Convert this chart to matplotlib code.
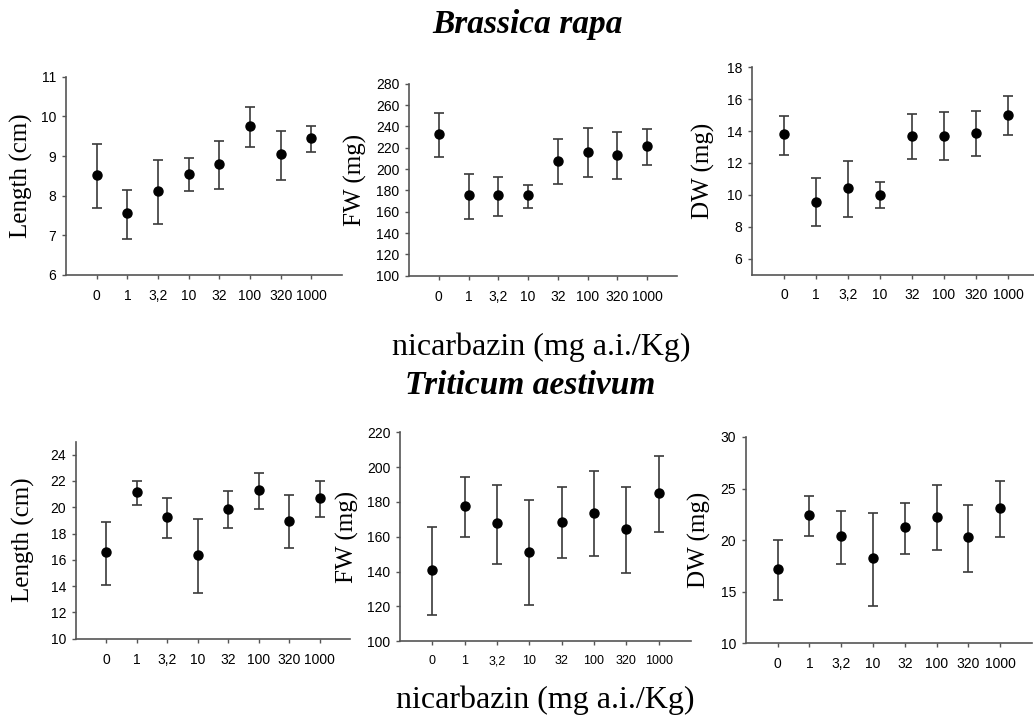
import numpy as np
import matplotlib
matplotlib.use("Agg")
import matplotlib.pyplot as plt

doses = ['0', '1', '3,2', '10', '32', '100', '320', '1000']

# Brassica rapa
br_len = [8.53, 7.56, 8.11, 8.54, 8.79, 9.75, 9.04, 9.45]
br_len_lo = [7.69, 6.91, 7.28, 8.11, 8.17, 9.22, 8.40, 9.09]
br_len_hi = [9.31, 8.15, 8.91, 8.94, 9.38, 10.24, 9.64, 9.76]

br_fw = [232.5, 175.3, 175.3, 175.3, 207.5, 216.3, 213.4, 221.3]
br_fw_lo = [211.3, 152.8, 156.3, 163.8, 186.3, 192.5, 190.9, 203.4]
br_fw_hi = [252.5, 195.3, 192.8, 184.7, 227.8, 238.4, 234.4, 237.5]

br_dw = [13.79, 9.58, 10.42, 10.02, 13.69, 13.72, 13.88, 15.03]
br_dw_lo = [12.50, 8.04, 8.63, 9.15, 12.25, 12.19, 12.42, 13.76]
br_dw_hi = [14.96, 11.07, 12.13, 10.82, 15.07, 15.20, 15.24, 16.20]

# Triticum aestivum
ta_len = [16.56, 21.14, 19.22, 16.40, 19.87, 21.32, 18.99, 20.67]
ta_len_lo = [14.10, 20.18, 17.67, 13.47, 18.40, 19.87, 16.91, 19.22]
ta_len_hi = [18.84, 21.97, 20.69, 19.09, 21.24, 22.63, 20.91, 22.03]

ta_fw = [140.8, 177.5, 167.8, 151.2, 168.6, 173.7, 164.3, 185.0]
ta_fw_lo = [115.0, 160.0, 144.5, 120.8, 147.8, 149.1, 139.0, 162.5]
ta_fw_hi = [165.5, 194.3, 190.0, 181.0, 188.7, 197.8, 188.5, 206.5]

ta_dw = [17.22, 22.45, 20.39, 18.26, 21.23, 22.26, 20.29, 23.10]
ta_dw_lo = [14.19, 20.42, 17.71, 13.64, 18.64, 19.00, 16.94, 20.32]
ta_dw_hi = [20.06, 24.29, 22.87, 22.68, 23.64, 25.32, 23.42, 25.71]

W, H = 1034, 723
fig = plt.figure(figsize=(W / 100, H / 100), dpi=100)

serif = 'Liberation Serif'
sans = 'Liberation Sans'


def panel(rect, mean, lo, hi, ylabel, ylim, yticks, labx, xtick_fs=10):
    l, t, r, b = rect
    ax = fig.add_axes([l / W, 1 - b / H, (r - l) / W, (b - t) / H])
    x = np.arange(len(doses))
    mean = np.array(mean)
    yerr = [mean - np.array(lo), np.array(hi) - mean]
    ax.errorbar(x, mean, yerr=yerr, fmt='o', color='black', ms=6.5,
                ecolor='#3a3a3a', elinewidth=1.2, capsize=3.5, capthick=1.2)
    ax.set_xlim(-1, 8)
    ax.set_ylim(*ylim)
    ax.set_xticks(x)
    ax.set_xticklabels(doses, fontfamily=sans, fontsize=xtick_fs)
    ax.set_yticks(yticks)
    ax.set_yticklabels([str(v) for v in yticks], fontfamily=sans, fontsize=10)
    for s in ['top', 'right']:
        ax.spines[s].set_visible(False)
    for s in ['left', 'bottom']:
        ax.spines[s].set_color('#555555')
        ax.spines[s].set_linewidth(1.2)
    ax.tick_params(axis='x', direction='out', length=3, width=1, color='#555555', pad=7)
    ax.tick_params(axis='y', direction='out', length=3, width=1, color='#555555', pad=4)
    ax.set_ylabel(ylabel, fontfamily=serif, fontsize=18)
    ax.yaxis.label.set_va('center')
    ax.yaxis.set_label_coords(labx, 0.5)
    return ax


panel((66, 76.7, 342, 275), br_len, br_len_lo, br_len_hi, 'Length (cm)',
      (6, 11), list(range(6, 12)), -0.16)
panel((409, 83.7, 677, 275.7), br_fw, br_fw_lo, br_fw_hi, 'FW (mg)',
      (100, 280), list(range(100, 281, 20)), -0.20)
panel((752, 67.3, 1040, 274.6), br_dw, br_dw_lo, br_dw_hi, 'DW (mg)',
      (5, 18), list(range(6, 19, 2)), -0.17)

panel((76, 441.5, 350, 638.7), ta_len, ta_len_lo, ta_len_hi, 'Length (cm)',
      (10, 25), list(range(10, 25, 2)), -0.19)
panel((400, 432.3, 691, 641.3), ta_fw, ta_fw_lo, ta_fw_hi, 'FW (mg)',
      (100, 220), list(range(100, 221, 20)), -0.18, xtick_fs=9)
panel((745.7, 437, 1032, 643.3), ta_dw, ta_dw_lo, ta_dw_hi, 'DW (mg)',
      (10, 30), list(range(10, 31, 5)), -0.16)

fig.text(528 / W, 1 - 25 / H, 'Brassica rapa', ha='center', va='center',
         fontfamily=serif, fontsize=24, fontweight='bold', style='italic')
fig.text(541 / W, 1 - 347 / H, 'nicarbazin (mg a.i./Kg)', ha='center', va='center',
         fontfamily=serif, fontsize=23)
fig.text(530 / W, 1 - 385 / H, 'Triticum aestivum', ha='center', va='center',
         fontfamily=serif, fontsize=24, fontweight='bold', style='italic')
fig.text(545 / W, 1 - 700 / H, 'nicarbazin (mg a.i./Kg)', ha='center', va='center',
         fontfamily=serif, fontsize=23)

fig.savefig('out.png', dpi=100)
